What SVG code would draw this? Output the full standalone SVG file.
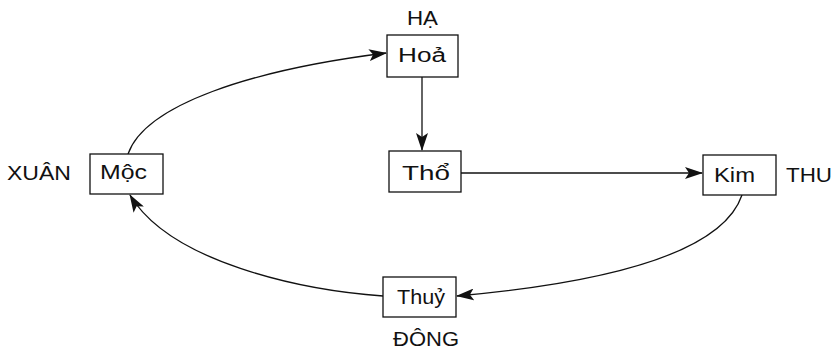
<svg xmlns="http://www.w3.org/2000/svg" width="833" height="351" viewBox="0 0 833 351">
<defs>
<style>
.box{fill:#fff;stroke:#111;stroke-width:1.3}
.t{font-family:"Liberation Sans",Arial,sans-serif;font-size:20px;fill:#111}
.c{fill:none;stroke:#111;stroke-width:1.3}
</style>
<marker id="ah" markerWidth="18" markerHeight="12" refX="17" refY="6" orient="auto" markerUnits="userSpaceOnUse">
<path d="M0,0 L18,6 L0,12 L4,6 Z" fill="#111"/>
</marker>
</defs>
<rect width="833" height="351" fill="#fff"/>
<g id="connectors">
<path class="c" d="M128,154 C145,105 250,70 386,53" marker-end="url(#ah)"/>
<path class="c" d="M422,77 L422,150" marker-end="url(#ah)"/>
<path class="c" d="M461,173 L702,173" marker-end="url(#ah)"/>
<path class="c" d="M742,195 C720,260 580,285 457,296" marker-end="url(#ah)"/>
<path class="c" d="M383,296 C300,290 170,262 130,195" marker-end="url(#ah)"/>
</g>
<g id="hoa">
<rect class="box" x="387" y="35" width="71" height="42"/>
<text class="t" x="398" y="62" textLength="48" lengthAdjust="spacingAndGlyphs">Hoả</text>
<text class="t" x="407" y="25" textLength="31" lengthAdjust="spacingAndGlyphs">HẠ</text>
</g>
<g id="moc">
<rect class="box" x="90" y="154" width="73" height="40"/>
<text class="t" x="100" y="179" textLength="47" lengthAdjust="spacingAndGlyphs">Mộc</text>
<text class="t" x="7" y="180" textLength="64" lengthAdjust="spacingAndGlyphs">XUÂN</text>
</g>
<g id="tho">
<rect class="box" x="389" y="151" width="72" height="41"/>
<text class="t" x="402" y="180" textLength="48" lengthAdjust="spacingAndGlyphs">Thổ</text>
</g>
<g id="kim">
<rect class="box" x="703" y="155" width="73" height="40"/>
<text class="t" x="714" y="182" textLength="41" lengthAdjust="spacingAndGlyphs">Kim</text>
<text class="t" x="786" y="182" textLength="46" lengthAdjust="spacingAndGlyphs">THU</text>
</g>
<g id="thuy">
<rect class="box" x="383" y="277" width="73" height="40"/>
<text class="t" x="397" y="304" textLength="48" lengthAdjust="spacingAndGlyphs">Thuỷ</text>
<text class="t" x="393" y="346" textLength="66" lengthAdjust="spacingAndGlyphs">ĐÔNG</text>
</g>
</svg>
